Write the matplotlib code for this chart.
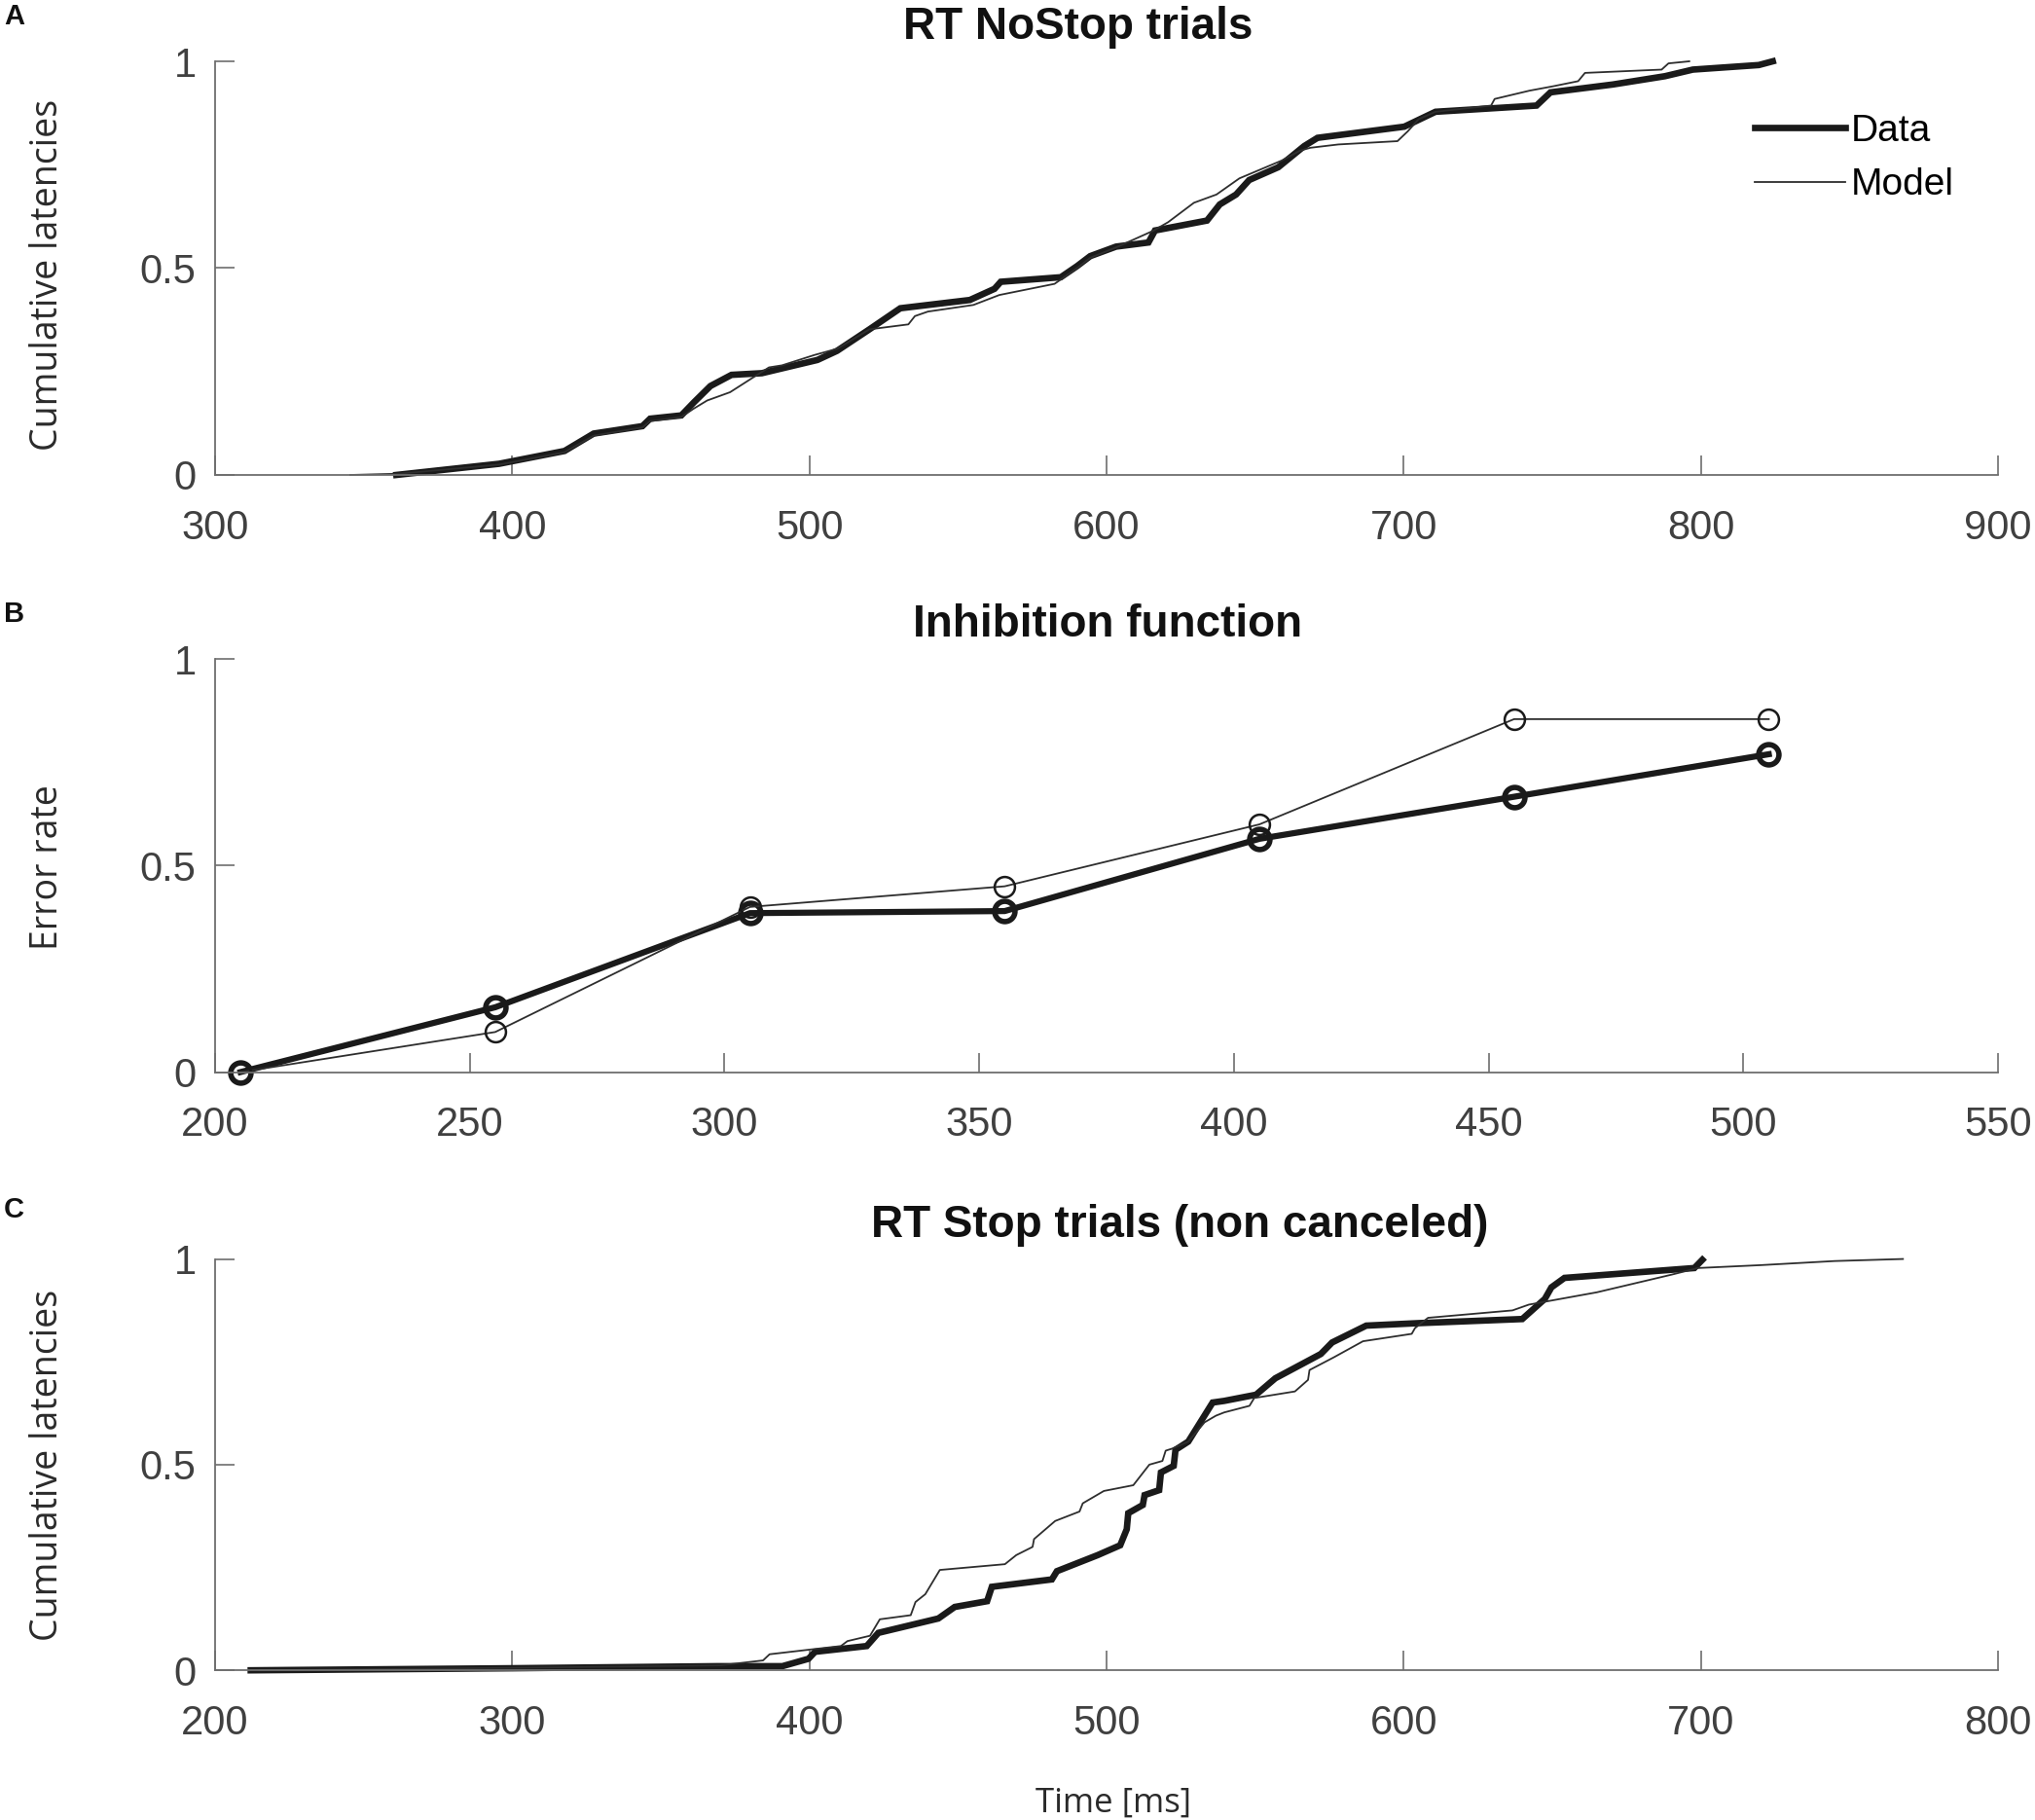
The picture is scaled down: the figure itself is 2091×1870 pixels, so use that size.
import matplotlib
matplotlib.use("Agg")
import matplotlib.pyplot as plt
from matplotlib import font_manager

# ---- data ----
# A: RT NoStop trials (cumulative latencies)
nostop_data_x = [361, 395.6, 417.6, 427.4, 443.8, 446.4, 456.9, 461.2, 466.7, 473.8, 484, 502.7,
                 509.3, 520.2, 530.6, 554, 562.3, 564.4, 584.6, 590.1, 594.5, 603.2, 614.1, 616.3,
                 633.8, 638.1, 643.6, 648, 657.8, 666.5, 671, 700.2, 710.7, 744.7, 749.4, 770.4,
                 787.9, 797.3, 819.5, 824.2]
nostop_data_y = [0, 0.027, 0.058, 0.10, 0.118, 0.136, 0.144, 0.176, 0.215, 0.242, 0.246, 0.278,
                 0.30, 0.352, 0.403, 0.423, 0.45, 0.467, 0.478, 0.505, 0.529, 0.552, 0.562, 0.591,
                 0.615, 0.654, 0.678, 0.713, 0.744, 0.795, 0.815, 0.842, 0.878, 0.893, 0.925, 0.944,
                 0.964, 0.98, 0.991, 1.0]
nostop_model_x = [345.5, 362, 395.6, 417.6, 427.4, 443.8, 446.4, 456.9, 461, 465.6, 473.3, 482,
                  486.4, 490.8, 501.7, 509.3, 520.2, 533.3, 535.5, 539.9, 555.2, 563.9, 582.5,
                  590.1, 594.5, 603.2, 615.6, 620.7, 629.4, 637, 644.7, 658.9, 665.1, 668.6, 678,
                  697.9, 701.4, 705, 710.7, 729.4, 730.6, 742.3, 750.5, 758.7, 761, 786.8, 789.1,
                  796.1]
nostop_model_y = [0, 0.003, 0.025, 0.055, 0.095, 0.115, 0.13, 0.14, 0.16, 0.18, 0.20, 0.24,
                  0.26, 0.265, 0.29, 0.305, 0.352, 0.364, 0.384, 0.395, 0.411, 0.435, 0.462,
                  0.50, 0.525, 0.55, 0.59, 0.611, 0.658, 0.678, 0.717, 0.76, 0.784, 0.791, 0.799,
                  0.807, 0.831, 0.86, 0.878, 0.893, 0.909, 0.929, 0.94, 0.952, 0.972, 0.98, 0.995,
                  1.0]

# B: inhibition function
ssd = [205, 255, 305, 355, 405, 455, 505]
inhib_data = [0, 0.157, 0.385, 0.39, 0.565, 0.667, 0.77]
inhib_model = [0, 0.097, 0.40, 0.45, 0.60, 0.855, 0.855]

# C: RT Stop trials (non canceled)
stop_data_x = [212, 300, 369, 390.9, 399.7, 401.9, 419.3, 423.2, 443.4, 448.9, 459.8, 461.4,
               481.6, 483.3, 497, 504.6, 506.8, 507.3, 512.2, 512.8, 517.7, 518.3, 522.6, 523.2,
               527.5, 535.7, 539.6, 550.3, 556.8, 572.1, 575.9, 587.4, 604.9, 639.9, 647.5, 649.7,
               654.1, 697.8, 700.5]
stop_data_y = [0, 0.005, 0.01, 0.01, 0.028, 0.045, 0.059, 0.091, 0.126, 0.154, 0.168, 0.203,
               0.221, 0.241, 0.28, 0.304, 0.343, 0.382, 0.402, 0.426, 0.438, 0.481, 0.497, 0.536,
               0.556, 0.651, 0.655, 0.670, 0.71, 0.769, 0.797, 0.838, 0.844, 0.854, 0.903, 0.931,
               0.954, 0.978, 0.998]
stop_model_x = [215, 300, 370, 384.4, 386.6, 399.7, 410.6, 412.8, 420.4, 423.7, 434.1, 435.7,
                439, 443.9, 465.8, 469.6, 475.1, 475.6, 482.7, 490.9, 492, 499.1, 509, 514.4,
                518.8, 519.9, 522.1, 527.5, 533, 536.8, 539.6, 548.1, 549.7, 563.4, 567.8, 568.3,
                576.5, 586.3, 602.7, 603.8, 608.2, 636.6, 642.1, 665, 690.2, 699, 720, 745, 768]
stop_model_y = [0, 0.006, 0.012, 0.024, 0.039, 0.05, 0.059, 0.071, 0.084, 0.124, 0.134, 0.166,
                0.185, 0.244, 0.258, 0.28, 0.30, 0.319, 0.363, 0.386, 0.406, 0.436, 0.45, 0.50,
                0.509, 0.534, 0.539, 0.556, 0.603, 0.619, 0.627, 0.643, 0.662, 0.678, 0.706, 0.73,
                0.761, 0.80, 0.818, 0.832, 0.857, 0.875, 0.889, 0.919, 0.962, 0.978, 0.985, 0.995,
                1.0]

xticks_a = [300, 400, 500, 600, 700, 800, 900]
xticks_b = [200, 250, 300, 350, 400, 450, 500, 550]
xticks_c = [200, 300, 400, 500, 600, 700, 800]

# fonts: narrow sans for the numbers if it is there
installed = {f.name for f in font_manager.fontManager.ttflist}
if "Liberation Sans Narrow" in installed:
    tick_font, tick_size, leg_size = "Liberation Sans Narrow", 33, 32
else:
    tick_font, tick_size, leg_size = "Liberation Sans", 30, 28
plt.rcParams["font.family"] = [tick_font, "DejaVu Sans"]
label_font = ["Open Sans", "DejaVu Sans"]
title_font = ["Liberation Sans", "DejaVu Sans"]

axis_gray = "#6e6e6e"
data_col = "#1a1a1a"
model_col = "#2e2e2e"

fig = plt.figure(figsize=(20.91, 18.7), dpi=100)
ax_a = fig.add_axes([0.10569, 0.73904, 0.87614, 0.22727])
ax_b = fig.add_axes([0.10569, 0.41096, 0.87614, 0.22680])
ax_c = fig.add_axes([0.10569, 0.08225, 0.87614, 0.22600])


def style_axes(ax, xticks):
    ax.set_xlim(xticks[0], xticks[-1])
    ax.set_ylim(0, 1)
    ax.set_xticks(xticks)
    ax.set_yticks([0, 0.5, 1])
    ax.set_yticklabels(["0", "0.5", "1"])
    for side in ["top", "right"]:
        ax.spines[side].set_visible(False)
    for side in ["left", "bottom"]:
        ax.spines[side].set_color(axis_gray)
        ax.spines[side].set_linewidth(1.3)
    ax.tick_params(direction="in", length=14.5, width=1.2, color=axis_gray,
                   labelcolor="#404040", labelsize=tick_size)
    ax.tick_params(axis="x", pad=25)
    ax.tick_params(axis="y", pad=14)


# A
ax_a.plot(nostop_data_x, nostop_data_y, color=data_col, lw=4.8, label="Data",
          solid_joinstyle="miter", clip_on=False)
ax_a.plot(nostop_model_x, nostop_model_y, color=model_col, lw=1.3, label="Model", clip_on=False)
style_axes(ax_a, xticks_a)
ax_a.legend(loc="upper left", bbox_to_anchor=(0.8635, 0.873), frameon=False,
            fontsize=leg_size, handlelength=2.39, handletextpad=0.15,
            labelspacing=0.5, borderpad=0, borderaxespad=0)

# B
ax_b.plot(ssd, inhib_data, color=data_col, lw=4.5, marker="o", ms=15, mfc="none",
          mec=data_col, mew=4.0, clip_on=False)
ax_b.plot(ssd, inhib_model, color=model_col, lw=1.3, marker="o", ms=15, mfc="none",
          mec=data_col, mew=1.8, clip_on=False)
style_axes(ax_b, xticks_b)

# C
ax_c.plot(stop_data_x, stop_data_y, color=data_col, lw=4.8, solid_joinstyle="miter",
          clip_on=False)
ax_c.plot(stop_model_x, stop_model_y, color=model_col, lw=1.3, clip_on=False)
style_axes(ax_c, xticks_c)

# titles, panel letters, axis labels
titles = ["RT NoStop trials", "Inhibition function", "RT Stop trials (non canceled)"]
title_pos = [(0.5297, 0.97854), (0.5442, 0.65020), (0.5799, 0.32025)]
for txt, (tx, ty) in zip(titles, title_pos):
    fig.text(tx, ty, txt, ha="center", va="baseline", fontsize=33, fontweight="bold",
             family=title_font, color="#111111")

letters = ["A", "B", "C"]
letter_y = [0.98656, 0.65822, 0.33095]
for lt, ly in zip(letters, letter_y):
    fig.text(0.002, ly, lt, ha="left", va="baseline", fontsize=21, fontweight="bold",
             family=title_font, color="#111111")

ylabels = ["Cumulative latencies", "Error rate", "Cumulative latencies"]
ylabel_y = [0.8490, 0.5235, 0.1952]
for yl, yy in zip(ylabels, ylabel_y):
    fig.text(0.0235, yy, yl, ha="center", va="center", rotation=90, fontsize=27,
             family=label_font, color="#2a2a2a")

fig.text(0.547, 0.0043, "Time [ms]", ha="center", va="baseline", fontsize=25,
         family=label_font, color="#2a2a2a")

fig.savefig("out.png", dpi=100)
